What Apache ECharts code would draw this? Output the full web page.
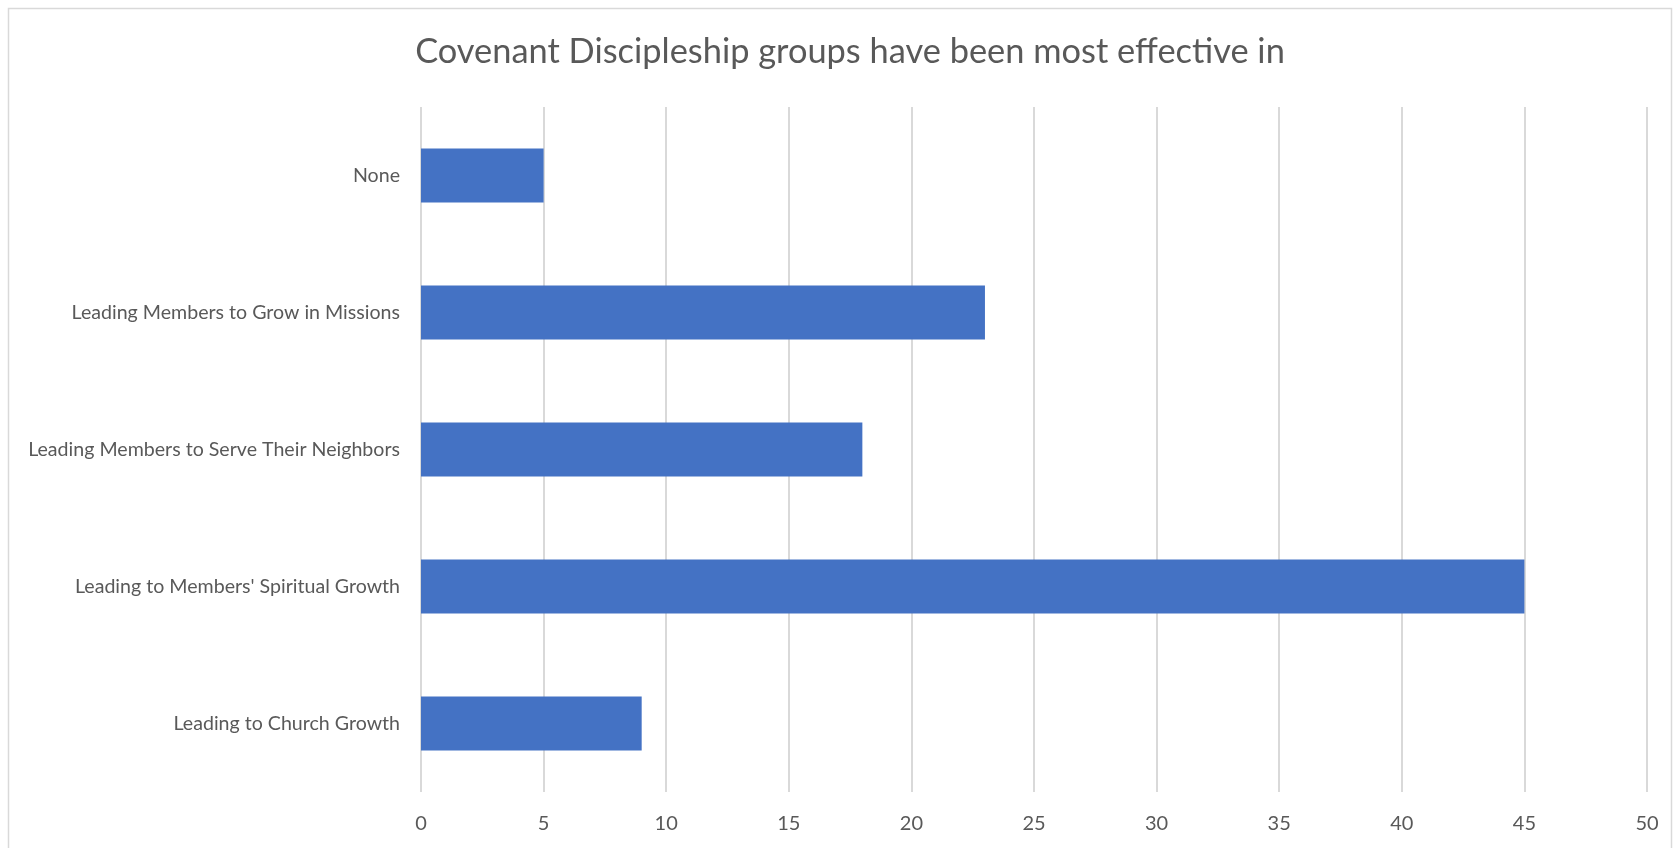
<!DOCTYPE html>
<html>
<head>
<meta charset="utf-8">
<script src="https://cdn.jsdelivr.net/npm/echarts@6/dist/echarts.min.js"></script>
<style>
  html, body { margin: 0; padding: 0; background: #ffffff; }
  #chart { width: 1674px; height: 848px; }
</style>
</head>
<body>
<div id="chart"></div>
<script>
// Survey responses, top to bottom
const categories = [
  'None',
  'Leading Members to Grow in Missions',
  'Leading Members to Serve Their Neighbors',
  "Leading to Members' Spiritual Growth",
  'Leading to Church Growth'
];
const counts = [5, 23, 18, 45, 9];
const titleText = 'Covenant Discipleship groups have been most effective in';

const FONT = 'Lato, "Open Sans", sans-serif';
const TEXT = '#595959';
const GRID = '#d9d9d9';

const chart = echarts.init(document.getElementById('chart'), null, { renderer: 'canvas' });
chart.setOption({
  backgroundColor: '#ffffff',
  animation: false,
  title: {
    text: titleText,
    left: 845,
    top: 30,
    textAlign: 'center',
    textStyle: { fontFamily: FONT, fontSize: 34.4, fontWeight: 'normal', color: TEXT }
  },
  graphic: [{
    type: 'rect',
    shape: { x: 8.5, y: 8.5, width: 1663, height: 860 },
    style: { fill: null, stroke: GRID, lineWidth: 1.5 },
    silent: true
  }],
  grid: { left: 421, right: 27, top: 107, bottom: 56, containLabel: false },
  xAxis: {
    type: 'value',
    min: 0,
    max: 50,
    interval: 5,
    axisLine: { show: false },
    axisTick: { show: false },
    axisLabel: { fontFamily: FONT, fontSize: 20, color: TEXT, margin: 22 },
    splitLine: { show: true, lineStyle: { color: GRID, width: 2 } }
  },
  yAxis: {
    type: 'category',
    data: categories,
    inverse: true,
    axisLine: { show: false },
    axisTick: { show: false },
    axisLabel: { fontFamily: FONT, fontSize: 19.6, color: TEXT, margin: 21 }
  },
  series: [{
    type: 'bar',
    data: counts,
    barWidth: 54,
    itemStyle: { color: '#4472c4' }
  }]
});
</script>
</body>
</html>
